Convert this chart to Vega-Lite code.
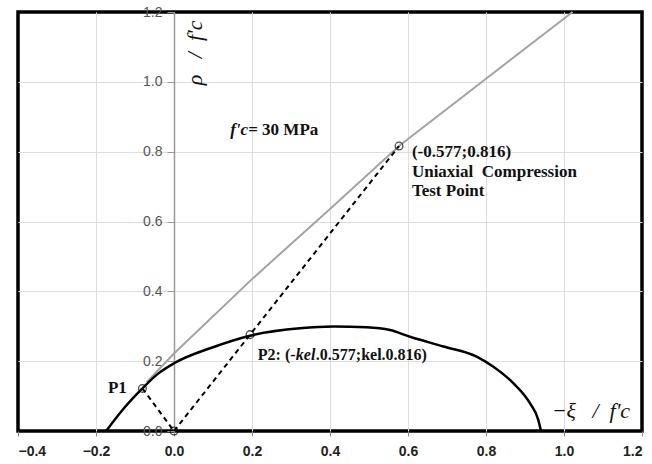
{
  "$schema": "https://vega.github.io/schema/vega-lite/v6.json",
  "width": 624,
  "height": 419,
  "autosize": {"type": "none"},
  "padding": {"left": 18, "top": 12, "right": 10, "bottom": 33},
  "background": "white",
  "config": {
    "view": {"stroke": "black", "strokeWidth": 3.5},
    "axis": {"labelFont": "Liberation Sans", "labelFontSize": 14, "gridColor": "#dedede", "gridWidth": 1}
  },
  "datasets": {
    "meridian": [
      {"x": -0.07, "y": 0.14},
      {"x": 0.0, "y": 0.222},
      {"x": 0.2, "y": 0.435},
      {"x": 0.4, "y": 0.636},
      {"x": 0.577, "y": 0.816},
      {"x": 0.79, "y": 1.0},
      {"x": 1.022, "y": 1.2}
    ],
    "cap": [
      {"x": -0.174, "y": 0.0},
      {"x": -0.13, "y": 0.063},
      {"x": -0.081, "y": 0.122},
      {"x": -0.04, "y": 0.165},
      {"x": 0.0, "y": 0.194},
      {"x": 0.1, "y": 0.24},
      {"x": 0.195, "y": 0.273},
      {"x": 0.323, "y": 0.294},
      {"x": 0.409, "y": 0.299},
      {"x": 0.494, "y": 0.297},
      {"x": 0.554, "y": 0.289},
      {"x": 0.605, "y": 0.27},
      {"x": 0.691, "y": 0.242},
      {"x": 0.776, "y": 0.213},
      {"x": 0.819, "y": 0.184},
      {"x": 0.87, "y": 0.137},
      {"x": 0.913, "y": 0.079},
      {"x": 0.934, "y": 0.032},
      {"x": 0.941, "y": 0.0}
    ],
    "rays": [
      {"seg": "toP1", "x": 0.0, "y": 0.0},
      {"seg": "toP1", "x": -0.081, "y": 0.122},
      {"seg": "toUC", "x": 0.0, "y": 0.0},
      {"seg": "toUC", "x": 0.577, "y": 0.816}
    ],
    "points": [
      {"name": "O", "x": 0.0, "y": 0.0},
      {"name": "P1", "x": -0.081, "y": 0.122},
      {"name": "P2", "x": 0.195, "y": 0.276},
      {"name": "UC", "x": 0.577, "y": 0.816}
    ],
    "notes": [
      {"x": 0.61, "y": 0.799, "text": "(-0.577;0.816)"},
      {"x": 0.61, "y": 0.743, "text": "Uniaxial\u00a0 Compression"},
      {"x": 0.61, "y": 0.688, "text": "Test Point"}
    ]
  },
  "encoding": {
    "x": {"field": "x", "type": "quantitative"},
    "y": {"field": "y", "type": "quantitative"}
  },
  "layer": [
    {
      "data": {"name": "meridian"},
      "mark": {"type": "line", "color": "#a3a3a3", "strokeWidth": 2},
      "encoding": {
        "x": {
          "field": "x", "type": "quantitative",
          "scale": {"domain": [-0.4, 1.2], "nice": false, "zero": false},
          "axis": {
            "values": [-0.4, -0.2, 0, 0.2, 0.4, 0.6, 0.8, 1.0, 1.2],
            "format": ".1f", "title": null, "domain": false,
            "tickColor": "#888", "tickSize": 5, "labelPadding": 8,
            "labelColor": "#222", "labelFontWeight": "bold", "grid": true,
            "gridOpacity": {"condition": {"test": "datum.value === -0.4 || datum.value === 1.2", "value": 0}, "value": 1}
          }
        },
        "y": {
          "field": "y", "type": "quantitative",
          "scale": {"domain": [0, 1.2], "nice": false},
          "axis": {
            "values": [0, 0.2, 0.4, 0.6, 0.8, 1.0, 1.2],
            "format": ".1f", "title": null, "offset": -156,
            "domain": true, "domainColor": "#9a9a9a", "domainWidth": 1.5,
            "tickColor": "#9a9a9a", "tickSize": 7, "labelPadding": 5,
            "labelColor": "#555", "grid": true,
            "gridOpacity": {"condition": {"test": "datum.value === 0 || datum.value === 1.2", "value": 0}, "value": 1}
          }
        }
      }
    },
    {
      "data": {"name": "cap"},
      "mark": {"type": "line", "color": "black", "strokeWidth": 2.5, "interpolate": "monotone"}
    },
    {
      "data": {"name": "rays"},
      "mark": {"type": "line", "color": "black", "strokeWidth": 2, "strokeDash": [5, 4]},
      "encoding": {"detail": {"field": "seg"}}
    },
    {
      "data": {"name": "points"},
      "mark": {"type": "point", "shape": "circle", "filled": false, "color": "black", "size": 60, "strokeWidth": 1.3}
    },
    {
      "data": {"name": "notes"},
      "mark": {"type": "text", "align": "left", "baseline": "middle", "font": "Liberation Serif", "fontWeight": "bold", "fontSize": 17, "color": "#111"},
      "encoding": {"text": {"field": "text"}}
    },
    {
      "data": {"values": [{"x": 0.215, "y": 0.218, "text": "P2: (-"}]},
      "mark": {"type": "text", "align": "left", "baseline": "middle", "font": "Liberation Serif", "fontWeight": "bold", "fontSize": 16, "color": "#111"},
      "encoding": {"text": {"field": "text"}}
    },
    {
      "data": {"values": [{"x": 0.215, "y": 0.218, "text": "kel"}]},
      "mark": {"type": "text", "align": "left", "baseline": "middle", "dx": 38, "font": "Liberation Serif", "fontWeight": "bold", "fontStyle": "italic", "fontSize": 16, "color": "#111"},
      "encoding": {"text": {"field": "text"}}
    },
    {
      "data": {"values": [{"x": 0.215, "y": 0.218, "text": ".0.577;kel.0.816)"}]},
      "mark": {"type": "text", "align": "left", "baseline": "middle", "dx": 58, "font": "Liberation Serif", "fontWeight": "bold", "fontSize": 16, "color": "#111"},
      "encoding": {"text": {"field": "text"}}
    },
    {
      "data": {"values": [{"x": -0.121, "y": 0.123, "text": "P1"}]},
      "mark": {"type": "text", "align": "right", "baseline": "middle", "font": "Liberation Serif", "fontWeight": "bold", "fontSize": 17, "color": "#111"},
      "encoding": {"text": {"field": "text"}}
    },
    {
      "data": {"values": [{"x": 0.144, "y": 0.862, "text": "f'c"}]},
      "mark": {"type": "text", "align": "left", "baseline": "middle", "font": "Liberation Serif", "fontWeight": "bold", "fontStyle": "italic", "fontSize": 17, "color": "#111"},
      "encoding": {"text": {"field": "text"}}
    },
    {
      "data": {"values": [{"x": 0.144, "y": 0.862, "text": "= 30 MPa"}]},
      "mark": {"type": "text", "align": "left", "baseline": "middle", "dx": 18, "font": "Liberation Serif", "fontWeight": "bold", "fontSize": 17, "color": "#111"},
      "encoding": {"text": {"field": "text"}}
    },
    {
      "data": {"values": [{"x": 0.054, "y": 1.083, "text": "ρ\u00a0\u00a0\u00a0/\u00a0\u00a0f'c"}]},
      "mark": {"type": "text", "align": "center", "baseline": "middle", "angle": 270, "font": "Liberation Serif", "fontStyle": "italic", "fontSize": 22, "color": "#111"},
      "encoding": {"text": {"field": "text"}}
    },
    {
      "data": {"values": [{"x": 1.069, "y": 0.057, "text": "−ξ\u00a0\u00a0\u00a0/\u00a0\u00a0f'c"}]},
      "mark": {"type": "text", "align": "center", "baseline": "middle", "font": "Liberation Serif", "fontStyle": "italic", "fontSize": 22, "color": "#111"},
      "encoding": {"text": {"field": "text"}}
    }
  ]
}
